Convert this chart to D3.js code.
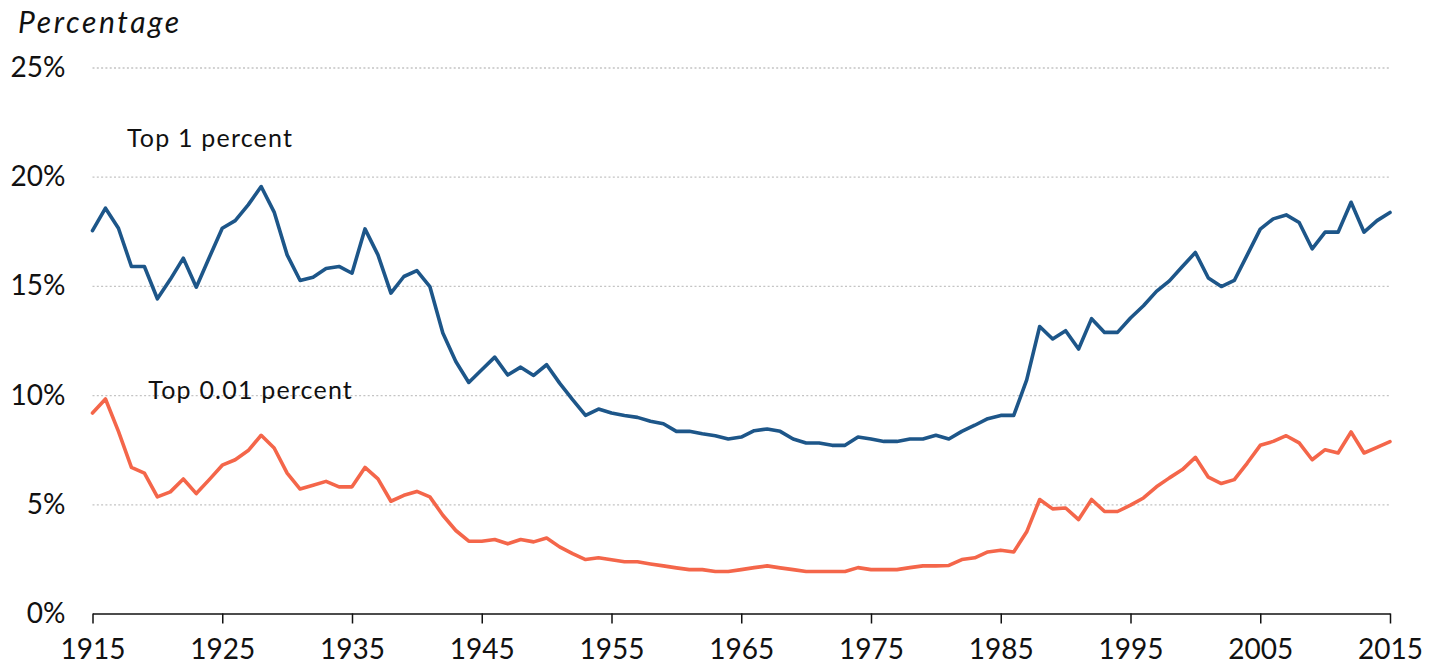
<!DOCTYPE html>
<html>
<head>
<meta charset="utf-8">
<script src="https://cdn.jsdelivr.net/npm/d3@7"></script>
<style>
  body { margin: 0; background: #fff; }
  svg { display: block; }
  text { font-family: Lato, "Open Sans", sans-serif; fill: #111; }
</style>
</head>
<body>
<svg></svg>
<script>
// chart data

var firstYear = 1915,
	lastYear = 2015;

// share of income, top 1 percent (one value per year 1915-2015)
var top1 = [
	17.53, 18.56, 17.64, 15.89, 15.89, 14.41, 15.30, 16.27, 14.94, 16.30,
	17.64, 17.99, 18.71, 19.55, 18.38, 16.42, 15.25, 15.40, 15.80, 15.89,
	15.58, 17.61, 16.42, 14.67, 15.43, 15.70, 14.97, 12.84, 11.54, 10.58,
	11.16, 11.74, 10.92, 11.28, 10.90, 11.39, 10.55, 9.79, 9.07, 9.36,
	9.18, 9.07, 8.98, 8.80, 8.69, 8.34, 8.34, 8.23, 8.14, 7.99,
	8.08, 8.37, 8.45, 8.34, 7.99, 7.81, 7.81, 7.70, 7.70, 8.08,
	7.99, 7.88, 7.88, 7.99, 7.99, 8.16, 7.99, 8.34, 8.62, 8.92,
	9.07, 9.07, 10.70, 13.14, 12.57, 12.95, 12.11, 13.50, 12.87, 12.87,
	13.53, 14.09, 14.75, 15.23, 15.89, 16.53, 15.36, 14.97, 15.25, 16.42,
	17.60, 18.07, 18.25, 17.90, 16.70, 17.46, 17.46, 18.83, 17.46, 17.99,
	18.36
];

// share of income, top 0.01 percent
var top001 = [
	9.18, 9.82, 8.34, 6.69, 6.43, 5.34, 5.57, 6.16, 5.49, 6.13,
	6.79, 7.04, 7.46, 8.16, 7.58, 6.43, 5.70, 5.87, 6.05, 5.80,
	5.80, 6.69, 6.16, 5.14, 5.41, 5.59, 5.34, 4.50, 3.80, 3.31,
	3.31, 3.39, 3.19, 3.39, 3.28, 3.46, 3.05, 2.74, 2.47, 2.55,
	2.46, 2.37, 2.37, 2.27, 2.18, 2.09, 2.01, 2.01, 1.92, 1.92,
	2.01, 2.10, 2.18, 2.09, 2.01, 1.92, 1.92, 1.92, 1.92, 2.10,
	2.01, 2.01, 2.01, 2.10, 2.18, 2.18, 2.20, 2.47, 2.55, 2.82,
	2.90, 2.82, 3.74, 5.22, 4.79, 4.83, 4.30, 5.22, 4.67, 4.67,
	4.96, 5.29, 5.80, 6.21, 6.59, 7.15, 6.24, 5.95, 6.13, 6.89,
	7.70, 7.88, 8.14, 7.81, 7.04, 7.50, 7.35, 8.31, 7.35, 7.61,
	7.87
];

var xTicks = [1915, 1925, 1935, 1945, 1955, 1965, 1975, 1985, 1995, 2005, 2015];
var yTicks = [0, 5, 10, 15, 20, 25];

var seriesNames = ['Top 1 percent', 'Top 0.01 percent'];
var seriesColors = ['#1d5689', '#f4664a'];

// svg measurements

var width = 1438,
	height = 666;

var years = d3.range(firstYear, lastYear + 1);

var xScale = d3.scaleLinear()
				.domain([firstYear, lastYear])
				.range([92.5, 1390]);

var yScale = d3.scaleLinear()
				.domain([0, 25])
				.range([613.5, 67.5]);

var svg = d3.select('svg')
			.attr('width', width)
			.attr('height', height);

// dotted gridlines + y labels
var yAxis = d3.axisLeft(yScale)
			  .tickValues(yTicks)
			  .tickSize(-(xScale.range()[1] - xScale.range()[0]))
			  .tickPadding(27)
			  .tickFormat(d => d + '%');

var gy = svg.append('g')
	.attr('transform', 'translate(' + xScale.range()[0] + ',0)')
	.call(yAxis);

gy.select('.domain').remove();
gy.selectAll('.tick line')
	.attr('stroke', '#c4c4c4')
	.attr('stroke-width', 1.3)
	.attr('stroke-dasharray', '2,2.3')
	.filter(d => d === 0).remove();
gy.selectAll('.tick text')
	.style('font-size', '28px')
	.attr('fill', '#111');

// x axis
var xAxis = d3.axisBottom(xScale)
			  .tickValues(xTicks)
			  .tickSize(10)
			  .tickSizeOuter(0)
			  .tickPadding(16)
			  .tickFormat(d3.format('d'));

var gx = svg.append('g')
	.attr('transform', 'translate(0,' + yScale(0) + ')')
	.call(xAxis);

gx.select('.domain').attr('stroke', '#111').attr('stroke-width', 1.5);
gx.selectAll('.tick line').attr('stroke', '#111').attr('stroke-width', 1.5);
gx.selectAll('.tick text')
	.style('font-size', '28px')
	.attr('fill', '#111');

// axis title
svg.append('text')
	.attr('x', 18)
	.attr('y', 33)
	.style('font-size', '30px')
	.style('font-style', 'italic')
	.style('letter-spacing', '2.6px')
	.text('Percentage');

// lines
var line = d3.line()
	.x((d, i) => xScale(years[i]))
	.y(d => yScale(d));

[top1, top001].forEach(function(series, k) {
	svg.append('path')
		.datum(series)
		.attr('d', line)
		.attr('fill', 'none')
		.attr('stroke', seriesColors[k])
		.attr('stroke-width', 3.6)
		.attr('stroke-linejoin', 'round')
		.attr('stroke-linecap', 'round');
});

// series labels (anchored in data units)
var labelSpots = [
	{ year: 1917.65, value: 21.35 },
	{ year: 1919.3, value: 9.8 }
];

svg.selectAll('.series-label')
	.data(seriesNames)
	.enter()
	.append('text')
		.attr('class', 'series-label')
		.attr('x', (d, i) => xScale(labelSpots[i].year))
		.attr('y', (d, i) => yScale(labelSpots[i].value))
		.style('font-size', '25px')
		.style('letter-spacing', '1.2px')
		.text(d => d);
</script>
</body>
</html>
